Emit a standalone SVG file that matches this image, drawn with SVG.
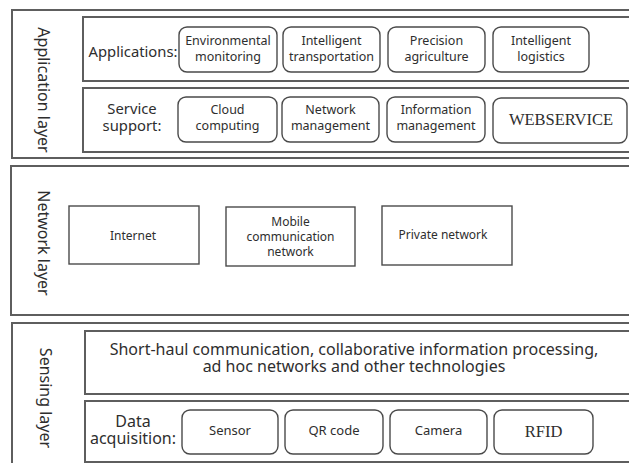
<svg xmlns="http://www.w3.org/2000/svg" width="629" height="463" viewBox="0 0 629 463">
  <style>
    .frame { fill: #fff; stroke: #5e5e5e; stroke-width: 2; }
    .panel { fill: #fff; stroke: #5e5e5e; stroke-width: 2; }
    .node { fill: #fff; stroke: #4a4a4a; stroke-width: 1.4; }
    .rect { fill: #fff; stroke: #4a4a4a; stroke-width: 1.4; }
    text { font-family: "Noto Sans", "Open Sans", "DejaVu Sans", sans-serif; fill: #2e2e2e; text-anchor: middle; }
    .lbl { font-size: 12.5px; }
    .net { font-size: 12px; }
    .sns { font-size: 13px; }
    .cap { font-size: 14.8px; }
    .wide { font-size: 16px; }
    .layer { font-size: 16px; }
    .serif { font-family: "Liberation Serif", "Times New Roman", serif; font-size: 16.5px; }
  </style>
  <rect width="629" height="463" fill="#fff"/>

  <!-- Application layer -->
  <g id="application-layer">
    <rect class="frame" x="12" y="10" width="640" height="148"/>
    <text class="layer" transform="translate(38 90) rotate(90)">Application layer</text>
    <rect class="panel" x="83" y="17" width="560" height="64"/>
    <rect class="panel" x="83" y="88" width="560" height="64"/>
    <text class="cap" x="133" y="57">Applications:</text>
    <text class="cap" x="132" y="114">Service</text>
    <text class="cap" x="132" y="131">support:</text>
  </g>
  <g id="env-monitoring">
    <rect class="node" x="179" y="27" width="98" height="45" rx="8"/>
    <text class="lbl" x="228" y="44.5">Environmental</text>
    <text class="lbl" x="228" y="60.5">monitoring</text>
  </g>
  <g id="intel-transport">
    <rect class="node" x="283" y="27" width="97" height="45" rx="8"/>
    <text class="lbl" x="331.5" y="44.5">Intelligent</text>
    <text class="lbl" x="331.5" y="60.5">transportation</text>
  </g>
  <g id="precision-agri">
    <rect class="node" x="388" y="27" width="97" height="45" rx="8"/>
    <text class="lbl" x="436.5" y="44.5">Precision</text>
    <text class="lbl" x="436.5" y="60.5">agriculture</text>
  </g>
  <g id="intel-logistics">
    <rect class="node" x="493" y="27" width="96" height="45" rx="8"/>
    <text class="lbl" x="541" y="44.5">Intelligent</text>
    <text class="lbl" x="541" y="60.5">logistics</text>
  </g>
  <g id="cloud-computing">
    <rect class="node" x="178" y="97" width="99" height="45" rx="8"/>
    <text class="lbl" x="227.5" y="114">Cloud</text>
    <text class="lbl" x="227.5" y="130">computing</text>
  </g>
  <g id="network-mgmt">
    <rect class="node" x="282" y="97" width="97" height="45" rx="8"/>
    <text class="lbl" x="330.5" y="114">Network</text>
    <text class="lbl" x="330.5" y="130">management</text>
  </g>
  <g id="info-mgmt">
    <rect class="node" x="387" y="97" width="98" height="45" rx="8"/>
    <text class="lbl" x="436" y="114">Information</text>
    <text class="lbl" x="436" y="130">management</text>
  </g>
  <g id="webservice">
    <rect class="node" x="493" y="98" width="134" height="45" rx="8"/>
    <text class="serif" x="561" y="125">WEBSERVICE</text>
  </g>

  <!-- Network layer -->
  <g id="network-layer">
    <rect class="frame" x="11" y="166" width="640" height="149"/>
    <text class="layer" transform="translate(38 243) rotate(90)">Network layer</text>
  </g>
  <g id="internet">
    <rect class="rect" x="69" y="206" width="130" height="58"/>
    <text class="net" x="133" y="240">Internet</text>
  </g>
  <g id="mobile-network">
    <rect class="rect" x="226" y="207" width="129" height="59"/>
    <text class="net" x="290.5" y="226">Mobile</text>
    <text class="net" x="290.5" y="241">communication</text>
    <text class="net" x="290.5" y="256">network</text>
  </g>
  <g id="private-network">
    <rect class="rect" x="382" y="206" width="130" height="59"/>
    <text class="net" x="443" y="239">Private network</text>
  </g>

  <!-- Sensing layer -->
  <g id="sensing-layer">
    <rect class="frame" x="12" y="323" width="640" height="160"/>
    <text class="layer" transform="translate(40 398) rotate(90)">Sensing layer</text>
    <rect class="panel" x="85" y="331" width="560" height="63"/>
    <text class="wide" x="354" y="355">Short-haul communication, collaborative information processing,</text>
    <text class="wide" x="354" y="372">ad hoc networks and other technologies</text>
    <rect class="panel" x="85" y="401" width="560" height="61"/>
    <text class="wide" x="133" y="427">Data</text>
    <text class="wide" x="133" y="444">acquisition:</text>
  </g>
  <g id="sensor">
    <rect class="node" x="182" y="410" width="96" height="44" rx="8"/>
    <text class="sns" x="230" y="435">Sensor</text>
  </g>
  <g id="qr-code">
    <rect class="node" x="285" y="410" width="98" height="44" rx="8"/>
    <text class="sns" x="334" y="435">QR code</text>
  </g>
  <g id="camera">
    <rect class="node" x="390" y="410" width="97" height="44" rx="8"/>
    <text class="sns" x="438.5" y="435">Camera</text>
  </g>
  <g id="rfid">
    <rect class="node" x="494" y="410" width="99" height="44" rx="8"/>
    <text class="serif" x="543.5" y="437">RFID</text>
  </g>

  <!-- no connectors in this diagram -->
  <g id="connectors"/>
</svg>
